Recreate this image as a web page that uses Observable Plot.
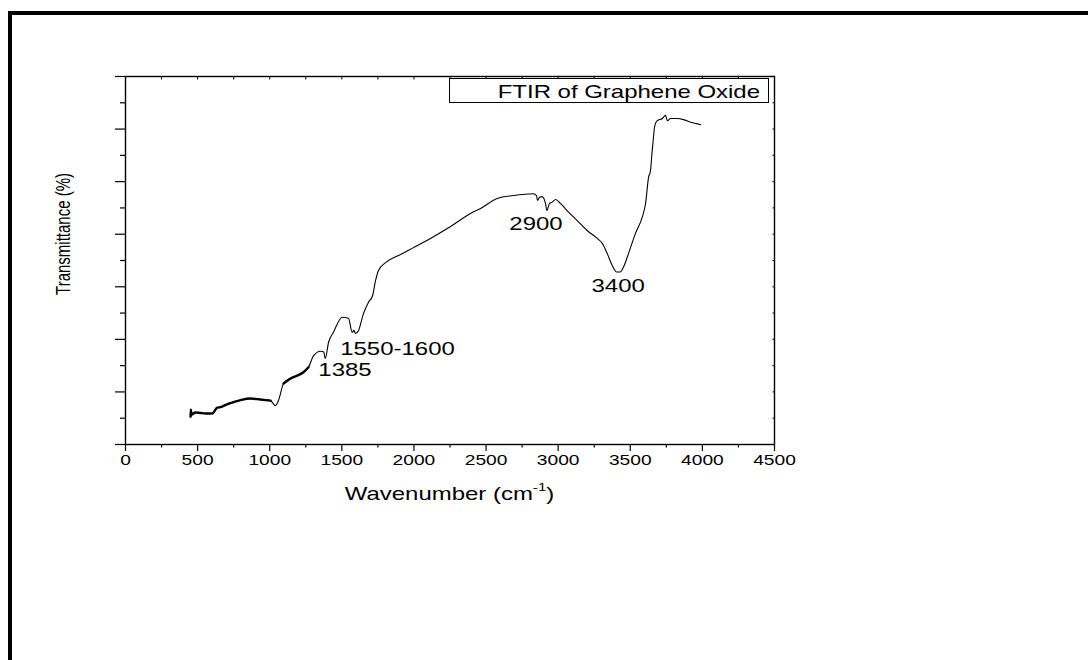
<!DOCTYPE html>
<html>
<head>
<meta charset="utf-8">
<title>FTIR of Graphene Oxide</title>
<script src="https://cdn.jsdelivr.net/npm/d3@7"></script>
<script src="https://cdn.jsdelivr.net/npm/@observablehq/plot@0.6"></script>
<style>
  html, body { margin: 0; padding: 0; background: #fff; overflow: hidden; }
  #page { position: relative; width: 1088px; height: 660px; overflow: hidden; background: #fff; }
  #chart { position: absolute; left: 0; top: 0; }
  #border { position: absolute; left: 8px; top: 11px; width: 2000px; height: 2000px;
            border-left: 4px solid #000; border-top: 4px solid #000; pointer-events: none; }
</style>
</head>
<body>
<div id="page"><div id="chart"></div><div id="border"></div></div>
<script>
// FTIR spectrum of graphene oxide: wavenumber (cm-1) and transmittance (arbitrary %)
const wavenumber = [
  451, 453, 458, 485, 520, 555, 601, 636, 659, 700, 749, 804, 867, 936, 1005, 1040, 1061,
  1096, 1144, 1234, 1269, 1304, 1352, 1375, 1385, 1408, 1442, 1503, 1546, 1572, 1584, 1595,
  1616, 1650, 1685, 1713, 1734, 1754, 1803, 1907, 1997, 2115, 2254, 2392, 2462, 2577, 2690,
  2829, 2850, 2857, 2871, 2889, 2912, 2922, 2940, 2959, 2982, 3016, 3072, 3132, 3201, 3271,
  3306, 3340, 3375, 3405, 3430, 3453, 3488, 3536, 3583, 3606, 3627, 3640, 3652, 3661, 3668,
  3687, 3722, 3744, 3758, 3779, 3826, 3869, 3918, 3987
];
const transmittance = [
  5.3, 6.6, 5.7, 6.1, 6.0, 5.9, 5.9, 7.0, 7.1, 7.6, 8.05, 8.5, 8.75, 8.55, 8.35, 7.4, 8.4,
  11.6, 12.55, 13.75, 14.7, 16.9, 17.75, 17.6, 16.35, 19.45, 21.35, 24.2, 24.0, 21.35, 21.7, 21.1,
  21.7, 24.9, 27.05, 28.3, 31.2, 33.1, 34.6, 36.15, 37.45, 39.2, 41.45, 43.95, 44.9, 46.8, 47.35,
  47.7, 47.35, 46.4, 47.05, 47.15, 45.85, 44.5, 45.85, 46.1, 46.6, 45.85, 44.2, 42.6, 40.7, 39.2,
  38.25, 36.35, 34.05, 32.8, 32.8, 33.75, 36.35, 40.15, 43.25, 45.85, 50.85, 52.1, 55.9, 58.45, 60.35,
  61.6, 62.0, 62.6, 61.6, 62.0, 62.0, 61.8, 61.3, 60.85
];

// Noisy low-wavenumber stretches of the trace (drawn with a heavier stroke)
const noisyBands = [[451, 1010], [1090, 1290]];

// Band assignments written next to the spectrum
const peakLabels = ["1385", "1550-1600", "2900", "3400"];
const peakLabelX = [1522, 1886, 2846, 3416];
const peakLabelY = [14.13, 18.03, 41.87, 30.02];

// Axis ticks
const xMajorTicks = [0, 500, 1000, 1500, 2000, 2500, 3000, 3500, 4000, 4500];
const xMinorTicks = [250, 750, 1250, 1750, 2250, 2750, 3250, 3750, 4250];
const yMajorTicks = [0, 10, 20, 30, 40, 50, 60, 70];
const yMinorTicks = [5, 15, 25, 35, 45, 55, 65];

const legendText = "FTIR of Graphene Oxide";

const FONT = "'Liberation Sans', Arial, Helvetica, sans-serif";
const STRETCH = 1.37; // glyphs in this figure are drawn horizontally widened

const spectrum = wavenumber.map((w, i) => ({wavenumber: w, transmittance: transmittance[i]}));
const noisy = noisyBands.flatMap(([a, b], k) =>
  spectrum.filter(d => d.wavenumber >= a && d.wavenumber <= b).map(d => ({...d, band: k})));
const peaks = peakLabels.map((label, i) => ({label, x: peakLabelX[i], y: peakLabelY[i]}));

const W = 1088, H = 660;
const plotLeft = 125, plotRight = 774, plotTop = 76, plotBottom = 444;

const chart = Plot.plot({
  width: W,
  height: H,
  marginLeft: plotLeft,
  marginRight: W - plotRight,
  marginTop: plotTop,
  marginBottom: H - plotBottom,
  style: {fontFamily: FONT, background: "transparent", color: "#000", overflow: "visible"},
  x: {domain: [0, 4500]},
  y: {domain: [0, 70]},
  marks: [
    Plot.axisX({anchor: "bottom", ticks: xMajorTicks, tickSize: 7, tickPadding: 4, fontSize: 14,
                tickFormat: d => String(d), label: null, strokeWidth: 1.2}),
    Plot.axisX({anchor: "bottom", ticks: xMinorTicks, tickSize: 3.5, tickFormat: () => "",
                label: null, strokeWidth: 1.2}),
    // mirrored axes: short ticks pointing into the plot
    Plot.axisX({anchor: "top", ticks: xMajorTicks.concat(xMinorTicks), tickSize: -2.5,
                tickFormat: () => "", label: null, strokeWidth: 1}),
    Plot.axisY({anchor: "left", ticks: yMajorTicks, tickSize: 10, tickFormat: () => "",
                label: null, strokeWidth: 1.2}),
    Plot.axisY({anchor: "left", ticks: yMinorTicks, tickSize: 5, tickFormat: () => "",
                label: null, strokeWidth: 1.2}),
    Plot.axisY({anchor: "right", ticks: yMajorTicks.concat(yMinorTicks), tickSize: -2.5,
                tickFormat: () => "", label: null, strokeWidth: 1}),
    Plot.frame({stroke: "#000", strokeWidth: 1.4}),
    Plot.line(spectrum, {x: "wavenumber", y: "transmittance", stroke: "#000", strokeWidth: 1.1,
                         curve: "monotone-x"}),
    Plot.line(noisy, {x: "wavenumber", y: "transmittance", z: "band", stroke: "#000",
                      strokeWidth: 2.4, curve: "monotone-x"}),
    Plot.text(peaks, {x: "x", y: "y", text: "label", fontSize: 17.5, fill: "#000",
                      textAnchor: "middle", lineAnchor: "middle", fontFamily: FONT})
  ]
});

document.getElementById("chart").appendChild(chart);
const svg = d3.select(chart);

// Widen the tick labels and band labels about their anchors
svg.selectAll("g[aria-label='x-axis tick label'] text, g[aria-label='text'] text").each(function () {
  const t = this.getAttribute("transform");
  if (t) {
    this.setAttribute("transform", `${t} scale(${STRETCH},1)`);
  } else {
    const x = +this.getAttribute("x") || 0, y = +this.getAttribute("y") || 0;
    this.removeAttribute("x"); this.removeAttribute("y");
    this.setAttribute("transform", `translate(${x},${y}) scale(${STRETCH},1)`);
  }
});

// Axis titles
const xTitle = svg.append("text")
  .attr("transform", `translate(${(plotLeft + plotRight) / 2},499.5) scale(${STRETCH},1)`)
  .attr("text-anchor", "middle")
  .attr("font-family", FONT)
  .attr("font-size", 17.5)
  .attr("fill", "#000");
xTitle.append("tspan").text("Wavenumber (cm");
xTitle.append("tspan").attr("font-size", 11).attr("dy", "-0.75em").text("-1");
xTitle.append("tspan").attr("dy", "0.48em").text(")");

svg.append("text")
  .attr("transform", `translate(63,234) scale(${STRETCH},1) rotate(-90)`)
  .attr("text-anchor", "middle")
  .attr("dy", "0.35em")
  .attr("font-family", FONT)
  .attr("font-size", 15)
  .attr("fill", "#000")
  .text("Transmittance (%)");

// Legend box
const legend = svg.append("g");
legend.append("rect")
  .attr("x", 449.5).attr("y", 78.5).attr("width", 319).attr("height", 24)
  .attr("fill", "#fff").attr("stroke", "#000").attr("stroke-width", 1);
legend.append("text")
  .attr("transform", `translate(760,98) scale(${STRETCH},1)`)
  .attr("text-anchor", "end")
  .attr("font-family", FONT)
  .attr("font-size", 17.5)
  .attr("fill", "#000")
  .text(legendText);
</script>
</body>
</html>
